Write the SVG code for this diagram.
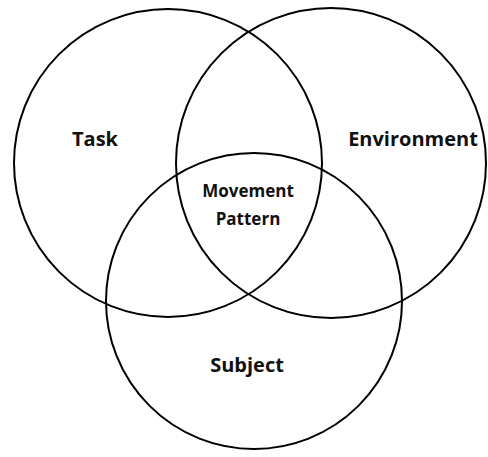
<svg xmlns="http://www.w3.org/2000/svg" width="488" height="457" viewBox="0 0 488 457">
<style>
.c{fill:none;stroke:#000;stroke-width:2}
.t{font-family:"Open Sans","Liberation Sans",sans-serif;font-weight:bold;fill:#111;text-anchor:middle}
.big{font-size:20px}
.sm{font-size:17px}
</style>
<rect width="488" height="457" fill="#fff"/>
<g id="task"><circle class="c" cx="168" cy="163" r="154"/><text class="t big" x="95" y="146">Task</text></g>
<g id="environment"><circle class="c" cx="331" cy="163" r="155"/><text class="t big" x="413" y="146">Environment</text></g>
<g id="subject"><circle class="c" cx="254" cy="301" r="148"/><text class="t big" x="247" y="372">Subject</text></g>
<g id="movement-pattern"><text class="t sm" x="248" y="197">Movement</text><text class="t sm" x="248" y="225">Pattern</text></g>
<g id="connectors"/>
</svg>
